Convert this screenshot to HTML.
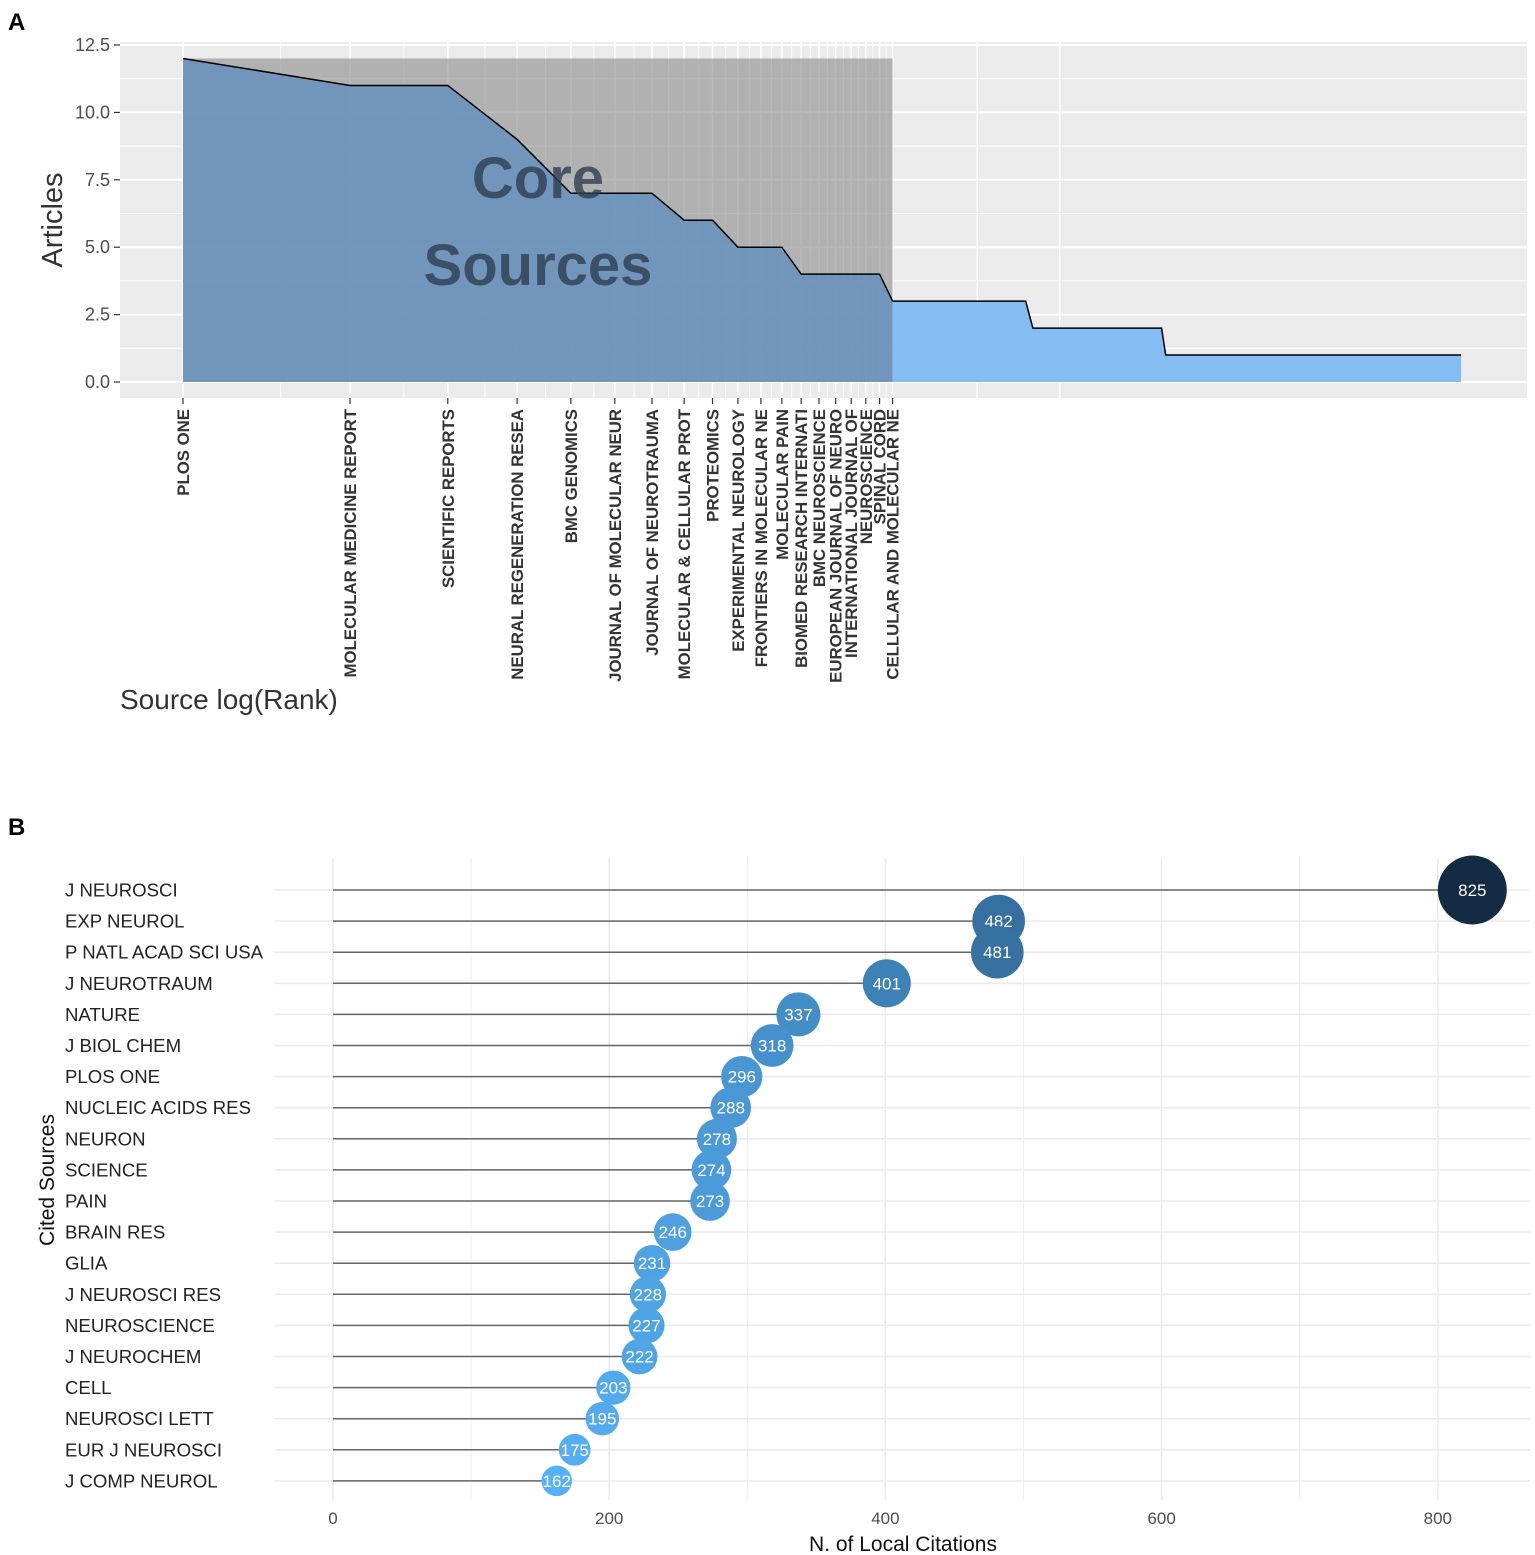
<!DOCTYPE html>
<html><head><meta charset="utf-8">
<style>
html,body{margin:0;padding:0;background:#fff;}
svg{display:block;font-family:"Liberation Sans",Arial,sans-serif;}
</style></head>
<body>
<svg id="chart" width="1535" height="1555" viewBox="0 0 1535 1555">
<text x="8" y="30" font-size="24" font-weight="bold">A</text>
<text x="8" y="835" font-size="24" font-weight="bold">B</text>
<rect x="120" y="42" width="1407" height="356" fill="#ebebeb"/>
<g id="gA"></g>
<text transform="translate(62,220) rotate(-90)" text-anchor="middle" font-size="29" fill="#333">Articles</text>
<text x="120" y="709" font-size="28" fill="#333">Source log(Rank)</text>
<g id="gB"></g>
<text x="903" y="1551" text-anchor="middle" font-size="21" fill="#111">N. of Local Citations</text>
<text transform="translate(54,1180) rotate(-90)" text-anchor="middle" font-size="21" fill="#111">Cited Sources</text>
</svg>
<script>
// ---- Panel A data ----
const coreSources = ["PLOS ONE","MOLECULAR MEDICINE REPORT","SCIENTIFIC REPORTS","NEURAL REGENERATION RESEA","BMC GENOMICS","JOURNAL OF MOLECULAR NEUR","JOURNAL OF NEUROTRAUMA","MOLECULAR & CELLULAR PROT","PROTEOMICS","EXPERIMENTAL NEUROLOGY","FRONTIERS IN MOLECULAR NE","MOLECULAR PAIN","BIOMED RESEARCH INTERNATI","BMC NEUROSCIENCE","EUROPEAN JOURNAL OF NEURO","INTERNATIONAL JOURNAL OF","NEUROSCIENCE","SPINAL CORD","CELLULAR AND MOLECULAR NE"];
const coreArticles = [12,11,11,9,7,7,7,6,6,5,5,5,4,4,4,4,4,4,3];
const tailLevels = [3,2,1];
const tailCounts = [14,25,143];
const yTicksA = [0,2.5,5,7.5,10,12.5];
const yTickLabelsA = ["0.0","2.5","5.0","7.5","10.0","12.5"];
const extraGridRanks = [27,38];

// ---- Panel B data ----
const citedSources = ["J NEUROSCI","EXP NEUROL","P NATL ACAD SCI USA","J NEUROTRAUM","NATURE","J BIOL CHEM","PLOS ONE","NUCLEIC ACIDS RES","NEURON","SCIENCE","PAIN","BRAIN RES","GLIA","J NEUROSCI RES","NEUROSCIENCE","J NEUROCHEM","CELL","NEUROSCI LETT","EUR J NEUROSCI","J COMP NEUROL"];
const localCitations = [825,482,481,401,337,318,296,288,278,274,273,246,231,228,227,222,203,195,175,162];
const xTicksB = [0,200,400,600,800];

const NS="http://www.w3.org/2000/svg";
function mk(tag,attrs,parent){const e=document.createElementNS(NS,tag);for(const k in attrs)e.setAttribute(k,attrs[k]);parent.appendChild(e);return e;}

// ===== Panel A =====
const gA=document.getElementById('gA');
const xA=r=>183+241*Math.log(r);
const yA=v=>382-v*26.96;
const articles=coreArticles.slice();
tailLevels.forEach((lv,i)=>{for(let k=0;k<tailCounts[i];k++)articles.push(lv);});
const nCore=coreSources.length;
yTicksA.forEach(t=>{
  const l=mk('line',{x1:120,x2:1527,y1:yA(t),y2:yA(t),stroke:'#fff','stroke-width':2},gA);
  
  if(t+1.25<13)mk('line',{x1:120,x2:1527,y1:yA(t+1.25),y2:yA(t+1.25),stroke:'#fff','stroke-width':1},gA);
});
for(let r=1;r<=nCore;r++){
  const l=mk('line',{x1:xA(r),x2:xA(r),y1:42,y2:398,stroke:'#fff','stroke-width':1.5},gA);
  
  if(r<nCore)mk('line',{x1:xA(r+0.5),x2:xA(r+0.5),y1:42,y2:398,stroke:'#fff','stroke-width':0.8},gA);
}
extraGridRanks.forEach(r=>mk('line',{x1:xA(r),x2:xA(r),y1:42,y2:398,stroke:'#fff','stroke-width':1.5},gA));
const cr=mk('rect',{x:xA(1),y:yA(coreArticles[0]),width:xA(nCore)-xA(1),height:yA(0)-yA(coreArticles[0]),fill:'#8a8a8a','fill-opacity':0.6},gA);

let pc=`${xA(1)},${yA(0)} `;for(let r=1;r<=nCore;r++)pc+=`${xA(r)},${yA(articles[r-1])} `;pc+=`${xA(nCore)},${yA(0)}`;
let pt=`${xA(nCore)},${yA(0)} `;for(let r=nCore;r<=articles.length;r++)pt+=`${xA(r)},${yA(articles[r-1])} `;pt+=`${xA(articles.length)},${yA(0)}`;
const at=mk('polygon',{points:pt,fill:'#85bdf3'},gA);

const ac=mk('polygon',{points:pc,fill:'#6f94bc','fill-opacity':0.95},gA);

let pl='';for(let r=1;r<=articles.length;r++)pl+=`${xA(r)},${yA(articles[r-1])} `;
const ln=mk('polyline',{points:pl,fill:'none',stroke:'#000','stroke-width':1.5},gA);

[['Core',198],['Sources',285]].forEach(([s,y])=>{
  const t=mk('text',{x:538,y:y,'text-anchor':'middle','font-size':58,'font-weight':'bold',fill:'#2d3e52','fill-opacity':0.8},gA);
  t.textContent=s;
});
yTicksA.forEach((t,i)=>{
  mk('line',{x1:114,x2:120,y1:yA(t),y2:yA(t),stroke:'#333','stroke-width':1.2},gA);
  const tx=mk('text',{x:110,y:yA(t)+6,'text-anchor':'end','font-size':18,fill:'#4d4d4d'},gA);
  tx.textContent=yTickLabelsA[i];
});
coreSources.forEach((s,i)=>{
  const x=xA(i+1);
  mk('line',{x1:x,x2:x,y1:398,y2:404,stroke:'#333','stroke-width':1.2},gA);
  const tx=mk('text',{transform:`translate(${x+6},409) rotate(-90)`,'text-anchor':'end','font-size':16.8,'font-weight':'bold',fill:'#333'},gA);
  tx.textContent=s;
});

// ===== Panel B =====
const gB=document.getElementById('gB');
const xB=v=>333+v*1.381;
const yB=i=>890+i*31.1;
const maxV=Math.max(...localCitations),minV=Math.min(...localCitations);
function col(v){const t=(v-minV)/(maxV-minV);const a=[86,177,247],b=[19,43,67];return `rgb(${a.map((c,k)=>Math.round(c+(b[k]-c)*t)).join(',')})`;}
for(let v=-100;v<=900;v+=100){const x=xB(v);if(x<275||x>1530)continue;
  const l=mk('line',{x1:x,x2:x,y1:858,y2:1500,stroke:'#ebebeb','stroke-width':v%200===0?1.6:0.8},gB);
  }
citedSources.forEach((s,i)=>{
  const l=mk('line',{x1:275,x2:1530,y1:yB(i),y2:yB(i),stroke:'#ebebeb','stroke-width':1.6},gB);
  
});
xTicksB.forEach(t=>{
  const tx=mk('text',{x:xB(t),y:1524,'text-anchor':'middle','font-size':17,fill:'#4d4d4d'},gB);
  tx.textContent=t;
});
citedSources.forEach((s,i)=>{
  const v=localCitations[i],y=yB(i);
  const tx=mk('text',{x:65,y:y+6.5,'font-size':18.6,fill:'#222'},gB);
  tx.textContent=s;
  const seg=mk('line',{x1:xB(0),x2:xB(v),y1:y,y2:y,stroke:'#666','stroke-width':1.5},gB);
  
  const c=mk('circle',{cx:xB(v),cy:y,r:1.2*Math.sqrt(v),fill:col(v)},gB);
  
  const lb=mk('text',{x:xB(v),y:y+6,'text-anchor':'middle','font-size':17,fill:'#fff'},gB);
  lb.textContent=v;
});
</script>
</body></html>
